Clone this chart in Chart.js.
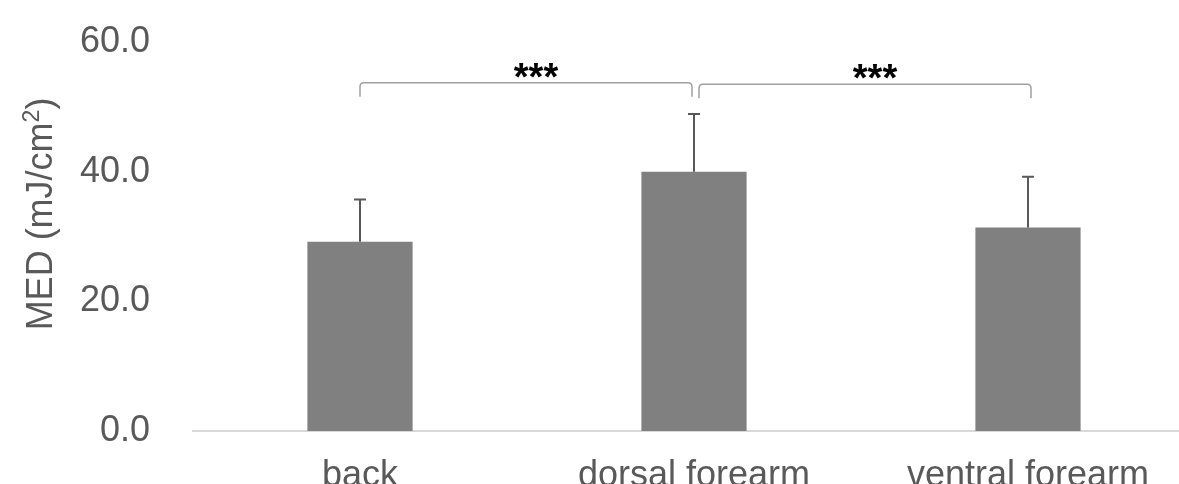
<!DOCTYPE html>
<html><head><meta charset="utf-8">
<script src="https://cdn.jsdelivr.net/npm/chart.js@4.4.1/dist/chart.umd.min.js"></script>
<style>
html,body{margin:0;padding:0;background:#fff;overflow:hidden;width:1179px;height:484px;}
#wrap{position:relative;width:1200px;height:484px;}
</style></head><body>
<div id="wrap"><canvas id="c"></canvas></div>
<script>
const categories = ['back', 'dorsal forearm', 'ventral forearm'];
const meanMED = [29.2, 40.0, 31.4];
const sdMED = [6.5, 8.9, 7.8];
const yTicks = [0, 20, 40, 60];
const sigPairs = [[0, 1], [1, 2]];
const sigLabels = ['***', '***'];
const sigLevels = [53.7, 53.5];
const yTitleMain = 'MED (mJ/cm';
const yTitleSup = '2';
const yTitleEnd = ')';

const FONT = '"Liberation Sans", Arial, sans-serif';

const overlay = {
  id: 'overlay',
  afterDatasetsDraw(chart) {
    const ctx = chart.ctx, x = chart.scales.x, y = chart.scales.y;
    ctx.save();
    ctx.strokeStyle = '#595959';
    ctx.lineWidth = 2;
    meanMED.forEach((m, i) => {
      const px = x.getPixelForValue(i);
      const y0 = y.getPixelForValue(m);
      const y1 = y.getPixelForValue(m + sdMED[i]);
      ctx.beginPath();
      ctx.moveTo(px, y0); ctx.lineTo(px, y1);
      ctx.moveTo(px - 6, y1); ctx.lineTo(px + 6, y1);
      ctx.stroke();
    });
    ctx.strokeStyle = '#a0a0a0';
    ctx.lineWidth = 1.5;
    sigPairs.forEach((p, k) => {
      const x1 = x.getPixelForValue(p[0]) + (k === 0 ? 0 : 5);
      const x2 = x.getPixelForValue(p[1]) - (k === 0 ? 2 : -3);
      const yT = y.getPixelForValue(sigLevels[k]);
      const yB = yT + 14;
      const r = 4;
      ctx.beginPath();
      ctx.moveTo(x1, yB);
      ctx.lineTo(x1, yT + r);
      ctx.quadraticCurveTo(x1, yT, x1 + r, yT);
      ctx.lineTo(x2 - r, yT);
      ctx.quadraticCurveTo(x2, yT, x2, yT + r);
      ctx.lineTo(x2, yB);
      ctx.stroke();
      ctx.fillStyle = '#000';
      ctx.font = 'bold 38px ' + FONT;
      ctx.textAlign = 'center';
      ctx.textBaseline = 'alphabetic';
      ctx.fillText(sigLabels[k], (x1 + x2) / 2 + 10, yT + 7);
    });
    ctx.fillStyle = '#595959';
    ctx.textAlign = 'left';
    ctx.textBaseline = 'alphabetic';
    const fMain = '36px ' + FONT, fSup = '23px ' + FONT;
    ctx.font = fMain;
    const w1 = ctx.measureText(yTitleMain).width;
    const w3 = ctx.measureText(yTitleEnd).width;
    ctx.font = fSup;
    const w2 = ctx.measureText(yTitleSup).width;
    const total = w1 + w2 + w3;
    const cy = 214, baseX = 52;
    ctx.translate(baseX, cy);
    ctx.rotate(-Math.PI / 2);
    let sx = -total / 2;
    ctx.font = fMain; ctx.fillText(yTitleMain, sx, 0); sx += w1;
    ctx.font = fSup; ctx.fillText(yTitleSup, sx, -13); sx += w2;
    ctx.font = fMain; ctx.fillText(yTitleEnd, sx, 0);
    ctx.restore();
  }
};

new Chart(document.getElementById('c'), {
  type: 'bar',
  data: {
    labels: categories,
    datasets: [{
      data: meanMED,
      backgroundColor: '#808080',
      borderWidth: 0,
      categoryPercentage: 1,
      barPercentage: 0.315
    }]
  },
  options: {
    responsive: true,
    maintainAspectRatio: false,
    animation: false,
    layout: { padding: { top: 42, right: 5, left: 0, bottom: 0 } },
    plugins: { legend: { display: false }, tooltip: { enabled: false } },
    scales: {
      x: {
        grid: { display: false, drawTicks: false },
        border: { display: true, color: '#d9d9d9', width: 2 },
        ticks: { color: '#595959', font: { family: FONT, size: 36 }, padding: 23, maxRotation: 0, autoSkip: false },
        afterFit(s) { s.height = 53; s.paddingLeft = 0; s.paddingRight = 0; }
      },
      y: {
        min: 0, max: 60,
        afterBuildTicks(s) { s.ticks = yTicks.map(v => ({ value: v })); },
        grid: { display: false, drawTicks: false },
        border: { display: false },
        ticks: { color: '#595959', font: { family: FONT, size: 36 }, padding: 43, callback: v => Number(v).toFixed(1) },
        afterFit(s) { s.width = 193; s.paddingTop = 0; s.paddingBottom = 0; }
      }
    }
  },
  plugins: [overlay]
});
</script>
</body></html>
